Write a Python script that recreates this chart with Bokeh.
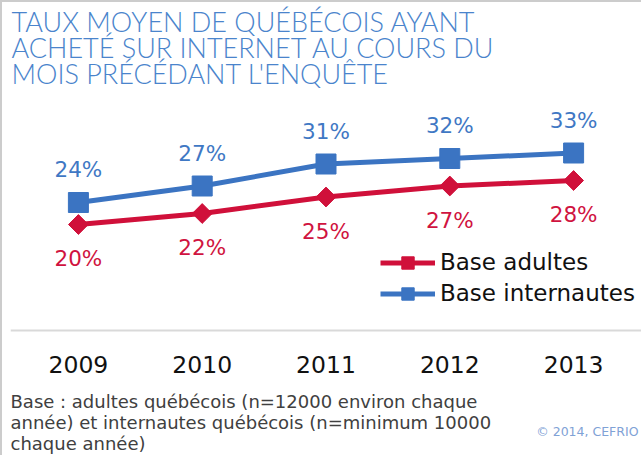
import math
from bokeh.plotting import figure
from bokeh.models import Range1d, Label, Legend, LegendItem, FactorRange
from bokeh.core.properties import value
from bokeh.embed import file_html
from bokeh.resources import INLINE

years = ["2009", "2010", "2011", "2012", "2013"]
adultes = [20, 22, 25, 27, 28]
internautes = [24, 27, 31, 32, 33]
title_lines = ["TAUX MOYEN DE QUÉBÉCOIS AYANT",
               "ACHETÉ SUR INTERNET AU COURS DU",
               "MOIS PRÉCÉDANT L'ENQUÊTE"]
foot_lines = ["Base : adultes québécois (n=12000 environ chaque",
              "année) et internautes québécois (n=minimum 10000",
              "chaque année)"]
credit = "© 2014, CEFRIO"

RED = "#d0103a"
BLUE = "#3b74c2"
TITLE_C = "#4a84cc"
FONT = "DejaVu Sans"
W, H = 641, 455
FL, FR, FT, FB = 10, 641, 0, 455   # frame edges (page pixels)
AXIS_Y = 330               # page y of the category axis line
PX = 5.5                   # pixels per percentage point
ZERO = 334                 # page y of value 0
STEP = 123.75              # pixels per category
PAD = (16 - FL) / STEP     # category padding on each side

def sx(x):
    return x - FL

def sy(y):
    return FB - y

p = figure(width=W, height=H,
           x_range=FactorRange(*years, range_padding=PAD, range_padding_units="absolute"),
           y_range=Range1d((ZERO - FB) / PX, (ZERO - FT) / PX),
           output_backend="svg", toolbar_location=None, y_axis_location=None,
           title=None, min_border_left=FL, min_border_right=W - FR,
           min_border_top=FT, min_border_bottom=H - FB,
           styles={"box-shadow": "inset 2px 2px 0 0 #cccccc"})
p.outline_line_color = None
p.grid.visible = False
p.background_fill_alpha = 0
p.border_fill_alpha = 0

ax = p.xaxis[0]
ax.fixed_location = (ZERO - AXIS_Y) / PX
ax.axis_line_color = "#d9d9d9"
ax.axis_line_width = 2
ax.major_tick_line_color = None
ax.minor_tick_line_color = None
ax.major_label_text_font = FONT
ax.major_label_text_font_size = "23.5px"
ax.major_label_text_color = "#111111"
ax.major_label_standoff = 19

rl = p.line(years, adultes, line_width=5, color=RED)
rs = p.scatter(years, adultes, marker="square", angle=math.pi / 4, size=14, color=RED)
bl = p.line(years, internautes, line_width=5, color=BLUE)
bs = p.scatter(years, internautes, marker="square", size=20, color=BLUE)

p.text(years, internautes, text=[f"{v}%" for v in internautes], text_align="center",
       text_baseline="middle", y_offset=-33, text_font=value(FONT),
       text_font_size="21.5px", text_color="#3f78c4")
p.text(years, adultes, text=[f"{v}%" for v in adultes], text_align="center",
       text_baseline="middle", y_offset=34, text_font=value(FONT),
       text_font_size="21.5px", text_color="#d01340")

legend = Legend(items=[LegendItem(label="Base adultes", renderers=[rl, rs]),
                       LegendItem(label="Base internautes", renderers=[bl, bs])],
                location=(sx(380), sy(308.5)), glyph_width=55, glyph_height=31,
                label_height=31, spacing=0, padding=0, margin=0, label_standoff=5,
                label_text_font=FONT, label_text_font_size="23px",
                label_text_color="#111111", border_line_color=None,
                background_fill_alpha=0)
p.add_layout(legend)

for i, t in enumerate(title_lines):
    p.add_layout(Label(x=sx(11), y=sy(20.5 + 26 * i), x_units="screen", y_units="screen",
                       text=t, text_font="Lato Light, Lato", text_font_size="27px",
                       text_color=TITLE_C, text_baseline="middle"))
for i, t in enumerate(foot_lines):
    p.add_layout(Label(x=sx(10), y=sy(401 + 21 * i), x_units="screen", y_units="screen",
                       text=t, text_font=FONT, text_font_size="18px",
                       text_color="#404040", text_baseline="middle"))
p.add_layout(Label(x=sx(638), y=sy(431), x_units="screen", y_units="screen",
                   text=credit, text_font=FONT, text_font_size="12.5px",
                   text_color="#7fa2d6", text_align="right", text_baseline="middle"))

open("out.html", "w").write(file_html(p, INLINE))
